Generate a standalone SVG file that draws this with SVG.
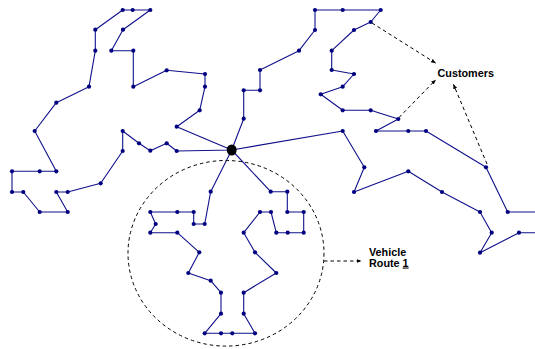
<svg xmlns="http://www.w3.org/2000/svg" xmlns:xlink="http://www.w3.org/1999/xlink" width="535" height="349" viewBox="0 0 535 349">
<style>
.route{fill:none;stroke:#10108c;stroke-width:1.1;stroke-linejoin:round}
.dot{fill:#000080}
.dash{fill:none;stroke:#000;stroke-width:1;stroke-dasharray:3.5,3}
.lbl{font-family:"Liberation Sans",Arial,sans-serif;font-weight:bold;font-size:10.8px;fill:#000}
</style>
<defs>
<circle id="dot" r="2.1" class="dot"/>
<marker id="ah" viewBox="0 0 10 10" refX="9" refY="5" markerWidth="5" markerHeight="5" orient="auto" markerUnits="userSpaceOnUse">
<path d="M0,1 L10,5 L0,9 Z" fill="#000"/>
</marker>
</defs>
<rect width="535" height="349" fill="#fff"/>
<g id="connectors">
<polyline id="routeA" class="route" points="231.7,150 176.7,126.7 199.7,110.3 205,86.7 205,74 166.7,70.3 133.3,86.7 133.3,50.7 111.3,50.7 123,29.7 150.3,10 132.7,10 122.7,10 95.3,29.7 95.3,50.7 89,86.7 56.3,102.7 34.7,131 56.3,171.3 39.7,171.3 12,171.3 12,192 23.3,192 39.7,212 67.7,212 56.3,192 67.7,192 100.7,183.3 122.7,151 122.7,131 139,143.3 150.3,150.7 166.7,143.3 176.7,151 231.7,150"/>
<polyline id="routeB" class="route" points="231.7,150 243.7,118.7 243.7,90.3 260,90.3 260,70 299,50.7 315,30 315,10 342.7,10 380.7,10 370.7,22 354,30 331.7,50.7 331.7,70 354,74 342.7,86.7 320.7,94.3 342.7,110.3 370.7,110.3 398.3,119 376,131 408.3,131 426,131 486,167.3 507.7,212 545,212 545,232.7 519,232.7 480,252.7 491.7,232.7 480,212 442,192 408.3,171.3 354,192 364.3,167.3 342.7,131 231.7,150"/>
<polyline id="routeC" class="route" points="231.7,150 270.7,191.7 287.3,191.7 287.3,212 303.7,212 303.7,232.7 287.7,232.7 276.3,232.7 271,212 260,212 243.7,232.7 255,252.3 276.3,273 243.7,292.7 243.7,313.7 255,333.3 232.3,333.3 221,333.3 204.7,333.3 221,313.7 221,292.7 210.7,280.7 188.3,273 199.3,252.3 177.3,232.7 150.3,232.7 155.7,224 150.3,212 177.3,212 193.7,212 193.7,224 204.7,224 210.7,191.7 231.7,150"/>
<ellipse id="routeCircle" class="dash" cx="226" cy="253.3" rx="98" ry="92.8"/>
<line class="dash" x1="372" y1="23" x2="435.5" y2="63" marker-end="url(#ah)"/>
<line class="dash" x1="399" y1="117.5" x2="435.5" y2="80" marker-end="url(#ah)"/>
<line class="dash" x1="487" y1="164" x2="453.5" y2="84.5" marker-end="url(#ah)"/>
<line class="dash" x1="324" y1="261" x2="361" y2="261" marker-end="url(#ah)"/>
</g>
<g id="nodesA">
<g id="a1"><use xlink:href="#dot" x="176.7" y="126.7"/></g>
<g id="a2"><use xlink:href="#dot" x="199.7" y="110.3"/></g>
<g id="a3"><use xlink:href="#dot" x="205" y="86.7"/></g>
<g id="a4"><use xlink:href="#dot" x="205" y="74"/></g>
<g id="a5"><use xlink:href="#dot" x="166.7" y="70.3"/></g>
<g id="a6"><use xlink:href="#dot" x="133.3" y="86.7"/></g>
<g id="a7"><use xlink:href="#dot" x="133.3" y="50.7"/></g>
<g id="a8"><use xlink:href="#dot" x="111.3" y="50.7"/></g>
<g id="a9"><use xlink:href="#dot" x="123" y="29.7"/></g>
<g id="a10"><use xlink:href="#dot" x="150.3" y="10"/></g>
<g id="a11"><use xlink:href="#dot" x="132.7" y="10"/></g>
<g id="a12"><use xlink:href="#dot" x="122.7" y="10"/></g>
<g id="a13"><use xlink:href="#dot" x="95.3" y="29.7"/></g>
<g id="a14"><use xlink:href="#dot" x="95.3" y="50.7"/></g>
<g id="a15"><use xlink:href="#dot" x="89" y="86.7"/></g>
<g id="a16"><use xlink:href="#dot" x="56.3" y="102.7"/></g>
<g id="a17"><use xlink:href="#dot" x="34.7" y="131"/></g>
<g id="a18"><use xlink:href="#dot" x="56.3" y="171.3"/></g>
<g id="a19"><use xlink:href="#dot" x="39.7" y="171.3"/></g>
<g id="a20"><use xlink:href="#dot" x="12" y="171.3"/></g>
<g id="a21"><use xlink:href="#dot" x="12" y="192"/></g>
<g id="a22"><use xlink:href="#dot" x="23.3" y="192"/></g>
<g id="a23"><use xlink:href="#dot" x="39.7" y="212"/></g>
<g id="a24"><use xlink:href="#dot" x="67.7" y="212"/></g>
<g id="a25"><use xlink:href="#dot" x="56.3" y="192"/></g>
<g id="a26"><use xlink:href="#dot" x="67.7" y="192"/></g>
<g id="a27"><use xlink:href="#dot" x="100.7" y="183.3"/></g>
<g id="a28"><use xlink:href="#dot" x="122.7" y="151"/></g>
<g id="a29"><use xlink:href="#dot" x="122.7" y="131"/></g>
<g id="a30"><use xlink:href="#dot" x="139" y="143.3"/></g>
<g id="a31"><use xlink:href="#dot" x="150.3" y="150.7"/></g>
<g id="a32"><use xlink:href="#dot" x="166.7" y="143.3"/></g>
<g id="a33"><use xlink:href="#dot" x="176.7" y="151"/></g>
</g>
<g id="nodesB">
<g id="b1"><use xlink:href="#dot" x="243.7" y="118.7"/></g>
<g id="b2"><use xlink:href="#dot" x="243.7" y="90.3"/></g>
<g id="b3"><use xlink:href="#dot" x="260" y="90.3"/></g>
<g id="b4"><use xlink:href="#dot" x="260" y="70"/></g>
<g id="b5"><use xlink:href="#dot" x="299" y="50.7"/></g>
<g id="b6"><use xlink:href="#dot" x="315" y="30"/></g>
<g id="b7"><use xlink:href="#dot" x="315" y="10"/></g>
<g id="b8"><use xlink:href="#dot" x="342.7" y="10"/></g>
<g id="b9"><use xlink:href="#dot" x="380.7" y="10"/></g>
<g id="b10"><use xlink:href="#dot" x="370.7" y="22"/></g>
<g id="b11"><use xlink:href="#dot" x="354" y="30"/></g>
<g id="b12"><use xlink:href="#dot" x="331.7" y="50.7"/></g>
<g id="b13"><use xlink:href="#dot" x="331.7" y="70"/></g>
<g id="b14"><use xlink:href="#dot" x="354" y="74"/></g>
<g id="b15"><use xlink:href="#dot" x="342.7" y="86.7"/></g>
<g id="b16"><use xlink:href="#dot" x="320.7" y="94.3"/></g>
<g id="b17"><use xlink:href="#dot" x="342.7" y="110.3"/></g>
<g id="b18"><use xlink:href="#dot" x="370.7" y="110.3"/></g>
<g id="b19"><use xlink:href="#dot" x="398.3" y="119"/></g>
<g id="b20"><use xlink:href="#dot" x="376" y="131"/></g>
<g id="b21"><use xlink:href="#dot" x="408.3" y="131"/></g>
<g id="b22"><use xlink:href="#dot" x="426" y="131"/></g>
<g id="b23"><use xlink:href="#dot" x="486" y="167.3"/></g>
<g id="b24"><use xlink:href="#dot" x="507.7" y="212"/></g>
<g id="b25"><use xlink:href="#dot" x="519" y="232.7"/></g>
<g id="b26"><use xlink:href="#dot" x="480" y="252.7"/></g>
<g id="b27"><use xlink:href="#dot" x="491.7" y="232.7"/></g>
<g id="b28"><use xlink:href="#dot" x="480" y="212"/></g>
<g id="b29"><use xlink:href="#dot" x="442" y="192"/></g>
<g id="b30"><use xlink:href="#dot" x="408.3" y="171.3"/></g>
<g id="b31"><use xlink:href="#dot" x="354" y="192"/></g>
<g id="b32"><use xlink:href="#dot" x="364.3" y="167.3"/></g>
<g id="b33"><use xlink:href="#dot" x="342.7" y="131"/></g>
</g>
<g id="nodesC">
<g id="c1"><use xlink:href="#dot" x="270.7" y="191.7"/></g>
<g id="c2"><use xlink:href="#dot" x="287.3" y="191.7"/></g>
<g id="c3"><use xlink:href="#dot" x="287.3" y="212"/></g>
<g id="c4"><use xlink:href="#dot" x="303.7" y="212"/></g>
<g id="c5"><use xlink:href="#dot" x="303.7" y="232.7"/></g>
<g id="c6"><use xlink:href="#dot" x="287.7" y="232.7"/></g>
<g id="c7"><use xlink:href="#dot" x="276.3" y="232.7"/></g>
<g id="c8"><use xlink:href="#dot" x="271" y="212"/></g>
<g id="c9"><use xlink:href="#dot" x="260" y="212"/></g>
<g id="c10"><use xlink:href="#dot" x="243.7" y="232.7"/></g>
<g id="c11"><use xlink:href="#dot" x="255" y="252.3"/></g>
<g id="c12"><use xlink:href="#dot" x="276.3" y="273"/></g>
<g id="c13"><use xlink:href="#dot" x="243.7" y="292.7"/></g>
<g id="c14"><use xlink:href="#dot" x="243.7" y="313.7"/></g>
<g id="c15"><use xlink:href="#dot" x="255" y="333.3"/></g>
<g id="c16"><use xlink:href="#dot" x="232.3" y="333.3"/></g>
<g id="c17"><use xlink:href="#dot" x="221" y="333.3"/></g>
<g id="c18"><use xlink:href="#dot" x="204.7" y="333.3"/></g>
<g id="c19"><use xlink:href="#dot" x="221" y="313.7"/></g>
<g id="c20"><use xlink:href="#dot" x="221" y="292.7"/></g>
<g id="c21"><use xlink:href="#dot" x="210.7" y="280.7"/></g>
<g id="c22"><use xlink:href="#dot" x="188.3" y="273"/></g>
<g id="c23"><use xlink:href="#dot" x="199.3" y="252.3"/></g>
<g id="c24"><use xlink:href="#dot" x="177.3" y="232.7"/></g>
<g id="c25"><use xlink:href="#dot" x="150.3" y="232.7"/></g>
<g id="c26"><use xlink:href="#dot" x="155.7" y="224"/></g>
<g id="c27"><use xlink:href="#dot" x="150.3" y="212"/></g>
<g id="c28"><use xlink:href="#dot" x="177.3" y="212"/></g>
<g id="c29"><use xlink:href="#dot" x="193.7" y="212"/></g>
<g id="c30"><use xlink:href="#dot" x="193.7" y="224"/></g>
<g id="c31"><use xlink:href="#dot" x="204.7" y="224"/></g>
<g id="c32"><use xlink:href="#dot" x="210.7" y="191.7"/></g>
</g>
<g id="depot"><ellipse cx="231.7" cy="150" rx="5" ry="5.6" fill="#000"/></g>
<g id="customersLabel"><text class="lbl" x="437.5" y="76.5">Customers</text></g>
<g id="vehicleRouteLabel"><text class="lbl" x="369" y="255.7">Vehicle</text><text class="lbl" x="369" y="266.5">Route <tspan text-decoration="underline">1</tspan></text></g>
</svg>
